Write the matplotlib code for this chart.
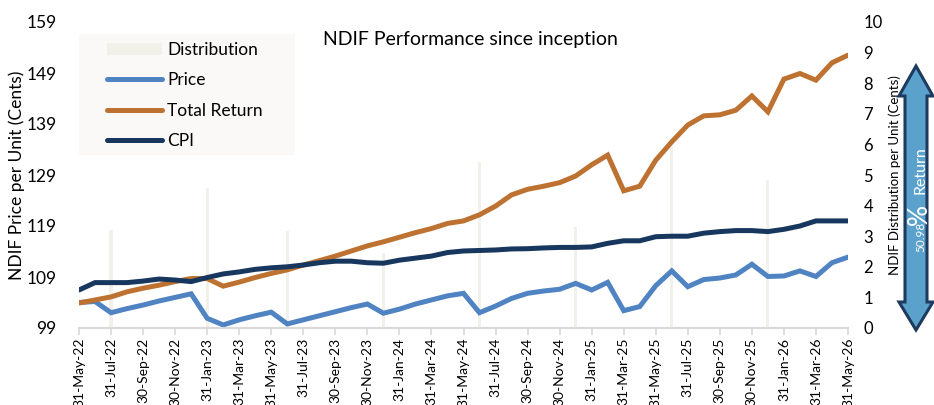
import numpy as np
import pandas as pd
import matplotlib
matplotlib.use("Agg")
import matplotlib.pyplot as plt
from matplotlib.patches import Polygon, Patch, Rectangle
from matplotlib.lines import Line2D

plt.rcParams['font.family'] = ['Lato', 'DejaVu Sans']

# datos mensuales (fin de mes) mayo-22 a mayo-26
fechas = pd.date_range('2022-05-31', periods=49, freq='ME')
etiquetas = [f.strftime('%d-%b-%y') for f in fechas]

precio = [104.0, 104.2, 102.0, 102.8, 103.5, 104.3, 105.0, 105.7, 100.9, 99.6,
          100.6, 101.4, 102.1, 99.8, 100.6, 101.4, 102.2, 103.0, 103.7, 101.9,
          102.7, 103.7, 104.5, 105.3, 105.8, 102.0, 103.3, 104.8, 105.8, 106.25,
          106.6, 107.75, 106.45, 107.95, 102.4, 103.2, 107.3, 110.2, 107.1, 108.5,
          108.8, 109.4, 111.5, 109.1, 109.2, 110.2, 109.1, 111.8, 112.9]

retorno_total = [103.9, 104.5, 105.1, 106.1, 106.8, 107.4, 108.1, 108.7, 108.7, 107.2,
                 108.0, 108.9, 109.7, 110.4, 111.35, 112.2, 113.1, 114.1, 115.1, 115.9,
                 116.8, 117.7, 118.5, 119.5, 120.0, 121.2, 122.9, 125.1, 126.2, 126.8,
                 127.5, 128.8, 131.0, 132.9, 125.9, 126.8, 131.9, 135.5, 138.8, 140.6,
                 140.8, 141.7, 144.5, 141.4, 147.8, 148.9, 147.6, 151.0, 152.5]

ipc = [106.45, 107.9, 107.9, 107.9, 108.2, 108.6, 108.4, 108.1, 108.9, 109.6,
       110.0, 110.5, 110.8, 111.0, 111.35, 111.8, 112.1, 112.1, 111.8, 111.7,
       112.3, 112.7, 113.1, 113.8, 114.1, 114.2, 114.3, 114.5, 114.55, 114.7,
       114.8, 114.8, 114.9, 115.6, 116.1, 116.1, 116.9, 117.0, 117.0, 117.6,
       117.9, 118.1, 118.1, 117.9, 118.35, 119.0, 120.0, 120.0, 120.0]

distribucion = [0, 0, 3.2, 0, 0, 0, 0, 0, 4.57, 0,
                0, 0, 0, 3.17, 0, 0, 0, 0, 0, 2.44,
                0, 0, 0, 0, 0, 5.43, 0, 0, 0, 0,
                0, 3.29, 0, 0, 0, 0, 0, 5.9, 0, 0,
                0, 0, 0, 4.84, 0, 0, 0, 0, 0]

c_precio = '#4F83C2'
c_total = '#BE7232'
c_ipc = '#17375E'
c_dist = '#F2F1E9'
c_eje = '#D9D9D9'

W, H = 934, 405
fig = plt.figure(figsize=(W / 100, H / 100), dpi=100)
ax = fig.add_axes([79 / W, 1 - 328 / H, (848 - 79) / W, (328 - 22) / H])
ax2 = ax.twinx()

x = np.arange(len(fechas))
ax2.bar(x, distribucion, width=0.2, color=c_dist, zorder=1)
ax2.set_ylim(0, 10)
ax2.set_yticks(range(0, 11))
ax2.tick_params(axis='y', length=0, labelsize=12, pad=11)

ax.set_zorder(ax2.get_zorder() + 1)
ax.patch.set_visible(False)

ax.plot(x, precio, color=c_precio, lw=3.6, solid_capstyle='round', solid_joinstyle='miter')
ax.plot(x, retorno_total, color=c_total, lw=3.6, solid_capstyle='round', solid_joinstyle='miter')
ax.plot(x, ipc, color=c_ipc, lw=3.6, solid_capstyle='round', solid_joinstyle='miter')

ax.set_xlim(0, len(x) - 1)
ax.set_ylim(99, 159)
ax.set_yticks(range(99, 160, 10))
ax.tick_params(axis='y', length=0, labelsize=12.5, pad=16)
ax.set_xticks(x[::2])
ax.set_xticklabels(etiquetas[::2], rotation=90, fontsize=10)
ax.tick_params(axis='x', length=5, color=c_eje, width=1.2, pad=2)

for a in (ax, ax2):
    for s in ('top', 'left', 'right'):
        a.spines[s].set_visible(False)
    a.spines['bottom'].set_color(c_eje)
    a.spines['bottom'].set_linewidth(1.5)

ax.set_ylabel('NDIF Price per Unit (Cents)', fontsize=12.5)
ax.yaxis.set_label_coords(-0.07, 0.5)
ax2.set_ylabel('NDIF Distribution per Unit (Cents)', fontsize=9.5)
ax2.yaxis.set_label_coords(1.053, 0.5)

fig.text(470 / W, 1 - 40 / H, 'NDIF Performance since inception', fontsize=14,
         ha='center', va='center')

# fondo de la leyenda
ax.add_patch(Rectangle((73 / W, 1 - 155 / H), 222 / W, 121 / H, transform=fig.transFigure,
                       facecolor='#FAF9F7', edgecolor='none', zorder=0.5))
handles = [Patch(facecolor=c_dist, edgecolor='none'),
           Line2D([], [], color=c_precio, lw=3.6, solid_capstyle='round'),
           Line2D([], [], color=c_total, lw=3.6, solid_capstyle='round'),
           Line2D([], [], color=c_ipc, lw=3.6, solid_capstyle='round')]
leg = ax.legend(handles, ['Distribution', 'Price', 'Total Return', 'CPI'],
                loc='upper left', bbox_to_anchor=(0.036, 0.934), fontsize=12.5,
                frameon=False, handlelength=3.2, handletextpad=0.3,
                labelspacing=0.82, borderpad=0, borderaxespad=0)

# flecha doble del retorno
pts = [(916, 66), (933, 96), (927, 96), (927, 302), (933, 302), (916, 330),
       (899, 302), (905, 302), (905, 96), (899, 96)]
flecha = Polygon([(px / W, 1 - py / H) for px, py in pts], closed=True,
                 transform=fig.transFigure, facecolor='#5AA2CC',
                 edgecolor='#1F3A5F', lw=2.2, joinstyle='miter')
fig.patches.append(flecha)
fig.text(921 / W, 1 - 237 / H, '50.98', rotation=90, fontsize=8.5, color='white',
         ha='center', va='center')
fig.text(919 / W, 1 - 214 / H, '%', rotation=90, fontsize=19, color='white',
         ha='center', va='center')
fig.text(921 / W, 1 - 170 / H, 'Return', rotation=90, fontsize=11.5, color='white',
         ha='center', va='center')

fig.savefig('out.png', dpi=100)
